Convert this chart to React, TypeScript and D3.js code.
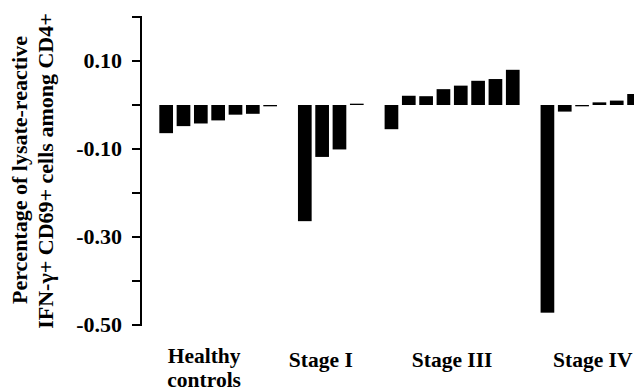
import React from "react";
import * as d3 from "d3";

// ---- data ----
const groups = ["Healthy controls", "Stage I", "Stage III", "Stage IV"];
const healthyValues = [-0.064, -0.048, -0.042, -0.035, -0.022, -0.02, -0.003];
const stage1Values = [-0.264, -0.118, -0.101, 0.003];
const stage3Values = [-0.055, 0.021, 0.02, 0.036, 0.044, 0.055, 0.059, 0.08];
const stage4Values = [-0.472, -0.015, -0.003, 0.006, 0.01, 0.025];
const yTicks = [0.2, 0.1, 0, -0.1, -0.2, -0.3, -0.4, -0.5];
const yTickLabels = ["", "0.10", "", "-0.10", "", "-0.30", "", "-0.50"];
const yLabelLines = ["Percentage of lysate-reactive", "IFN-\u03b3+ CD69+ cells among CD4+"];

// ---- layout ----
const W = 634;
const H = 391;
const FONT = "'Liberation Serif', 'Times New Roman', Times, serif";
const axisX = 141;
const labelNudge = [-14, -10, 0, 2]; // px shift of group labels from group centre
const labelY = [363, 367, 367, 367];

export default function App() {
  const series = [healthyValues, stage1Values, stage3Values, stage4Values];
  // build slots with one empty slot between groups
  const slots: { key: string; value: number | null; group: number }[] = [];
  series.forEach((vals, gi) => {
    if (gi > 0) slots.push({ key: `gap${gi}`, value: null, group: -1 });
    vals.forEach((v, i) => slots.push({ key: `g${gi}b${i}`, value: v, group: gi }));
  });

  const x = d3
    .scaleBand<string>()
    .domain(slots.map((s) => s.key))
    .range([157.5, 157.5 + 17.33 * slots.length])
    .paddingInner(0.21)
    .paddingOuter(0.105);

  const y = d3.scaleLinear().domain([-0.5, 0.2]).range([325, 17]);

  const bars = slots.filter((s) => s.value !== null);

  const groupCenters = groups.map((_, gi) => {
    const gs = slots.filter((s) => s.group === gi);
    const a = x(gs[0].key)!;
    const b = x(gs[gs.length - 1].key)! + x.bandwidth();
    return (a + b) / 2 + labelNudge[gi];
  });

  return (
    <svg
      width={W}
      height={H}
      style={{ position: "absolute", left: 0, top: 0, background: "#fff" }}
      fontFamily={FONT}
      fontWeight="bold"
    >
      <rect x={0} y={0} width={W} height={H} fill="#fff" />
      {/* y label */}
      <text
        transform={`translate(27,170) rotate(-90)`}
        textAnchor="middle"
        fontSize={22}
        fill="#000"
      >
        {yLabelLines[0]}
      </text>
      <text
        transform={`translate(53,171) rotate(-90)`}
        textAnchor="middle"
        fontSize={22}
        fill="#000"
      >
        {yLabelLines[1]}
      </text>

      {/* y axis */}
      <line x1={axisX} x2={axisX} y1={y(0.2) - 1} y2={y(-0.5) + 1} stroke="#000" strokeWidth={2} />
      {yTicks.map((t, i) => (
        <g key={t}>
          <line x1={axisX - 9} x2={axisX} y1={y(t)} y2={y(t)} stroke="#000" strokeWidth={2} />
          {yTickLabels[i] && (
            <text
              x={122}
              y={y(t)}
              dy="0.34em"
              textAnchor="end"
              fontSize={22}
              fill="#000"
            >
              {yTickLabels[i]}
            </text>
          )}
        </g>
      ))}

      {/* bars */}
      {bars.map((s) => {
        const v = s.value as number;
        const y0 = y(Math.max(0, v));
        const y1 = y(Math.min(0, v));
        return (
          <rect
            key={s.key}
            x={x(s.key)}
            y={y0}
            width={x.bandwidth()}
            height={Math.max(1.3, y1 - y0)}
            fill="#000"
          />
        );
      })}

      {/* group labels */}
      {groups.map((g, gi) => {
        const words = gi === 0 ? ["Healthy", "controls"] : [g];
        return (
          <text key={g} x={groupCenters[gi]} y={labelY[gi]} textAnchor="middle" fontSize={21.5} fill="#000">
            {words.map((w, wi) => (
              <tspan key={w} x={groupCenters[gi]} dy={wi === 0 ? 0 : 24}>
                {w}
              </tspan>
            ))}
          </text>
        );
      })}
    </svg>
  );
}
